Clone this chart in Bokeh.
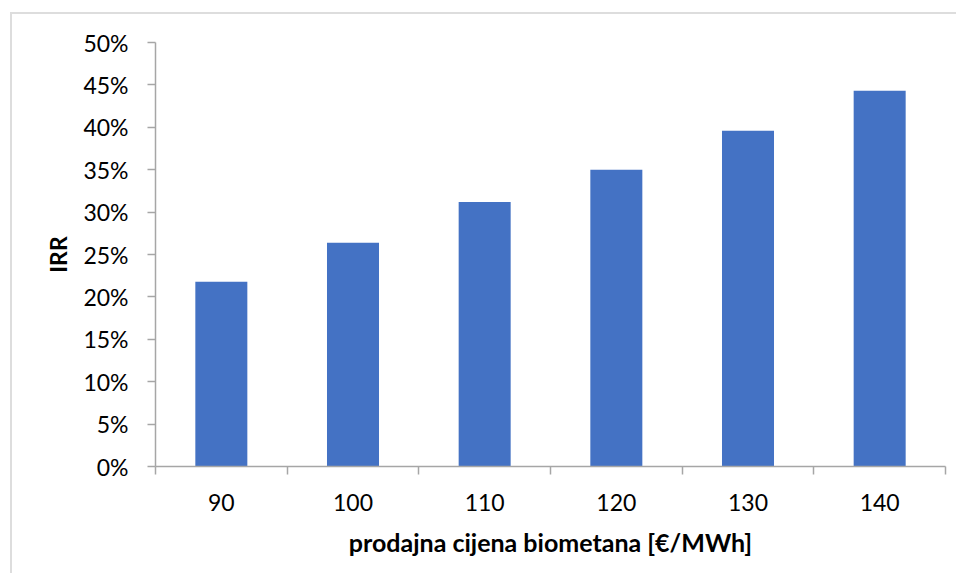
import numpy as np
from bokeh.plotting import figure
from bokeh.models import Range1d, FixedTicker, NumeralTickFormatter, InlineStyleSheet
from bokeh.embed import file_html
from bokeh.resources import INLINE

# Data
prices = ["90", "100", "110", "120", "130", "140"]
irr = [0.218, 0.264, 0.312, 0.350, 0.396, 0.443]
y_ticks = [0.0, 0.05, 0.10, 0.15, 0.20, 0.25, 0.30, 0.35, 0.40, 0.45, 0.50]

FONT = "Lato"
BAR = "#4472C4"
AXIS = "#A6A6A6"

n = len(prices)
xc = [i + 0.5 for i in range(n)]

p = figure(width=956, height=573, output_backend="svg", toolbar_location=None,
           x_range=Range1d(0, n), y_range=Range1d(0, 0.5),
           min_border_left=155, min_border_right=11, min_border_top=42, min_border_bottom=107)

p.vbar(x=xc, top=irr, width=0.395, bottom=0, fill_color=BAR, line_color=None)

# light chart-area border (only its top and left edges are in view)
p.stylesheets = [InlineStyleSheet(css="""
:host::after {
  content: "";
  position: absolute;
  left: 10px; top: 12px; right: 0; bottom: 0;
  border-left: 2px solid #DDDDDD;
  border-top: 2px solid #DDDDDD;
  pointer-events: none;
  z-index: 10;
}
""")]

p.xgrid.visible = False
p.ygrid.visible = False
p.outline_line_color = None
p.background_fill_color = "white"
p.border_fill_color = "white"

# x axis
xa = p.xaxis[0]
xa.ticker = FixedTicker(ticks=xc, minor_ticks=list(range(n + 1)))
xa.major_label_overrides = {x: lab for x, lab in zip(xc, prices)}
xa.major_tick_line_color = None
xa.major_tick_out = 8
xa.major_tick_in = 0
xa.minor_tick_out = 8
xa.minor_tick_in = 0
xa.minor_tick_line_color = AXIS
xa.minor_tick_line_width = 1.5
xa.axis_line_color = AXIS
xa.axis_line_width = 1.5
xa.major_label_text_font = FONT
xa.major_label_text_font_size = "23px"
xa.major_label_text_color = "#000000"
xa.major_label_standoff = 19
xa.axis_label = "prodajna cijena biometana [€/MWh]"
xa.axis_label_text_font = FONT
xa.axis_label_text_font_size = "25px"
xa.axis_label_text_font_style = "bold"
xa.axis_label_text_color = "#000000"
xa.axis_label_standoff = 13

# y axis
ya = p.yaxis[0]
ya.ticker = FixedTicker(ticks=y_ticks, minor_ticks=[])
ya.formatter = NumeralTickFormatter(format="0%")
ya.major_tick_out = 8
ya.major_tick_in = 0
ya.major_tick_line_color = AXIS
ya.major_tick_line_width = 1.5
ya.axis_line_color = AXIS
ya.axis_line_width = 1.5
ya.major_label_text_font = FONT
ya.major_label_text_font_size = "23px"
ya.major_label_text_color = "#000000"
ya.major_label_standoff = 19
ya.axis_label = "IRR"
ya.axis_label_text_font = FONT
ya.axis_label_text_font_size = "23px"
ya.axis_label_text_font_style = "bold"
ya.axis_label_text_color = "#000000"
ya.axis_label_standoff = 8

open("out.html", "w").write(file_html(p, INLINE))
